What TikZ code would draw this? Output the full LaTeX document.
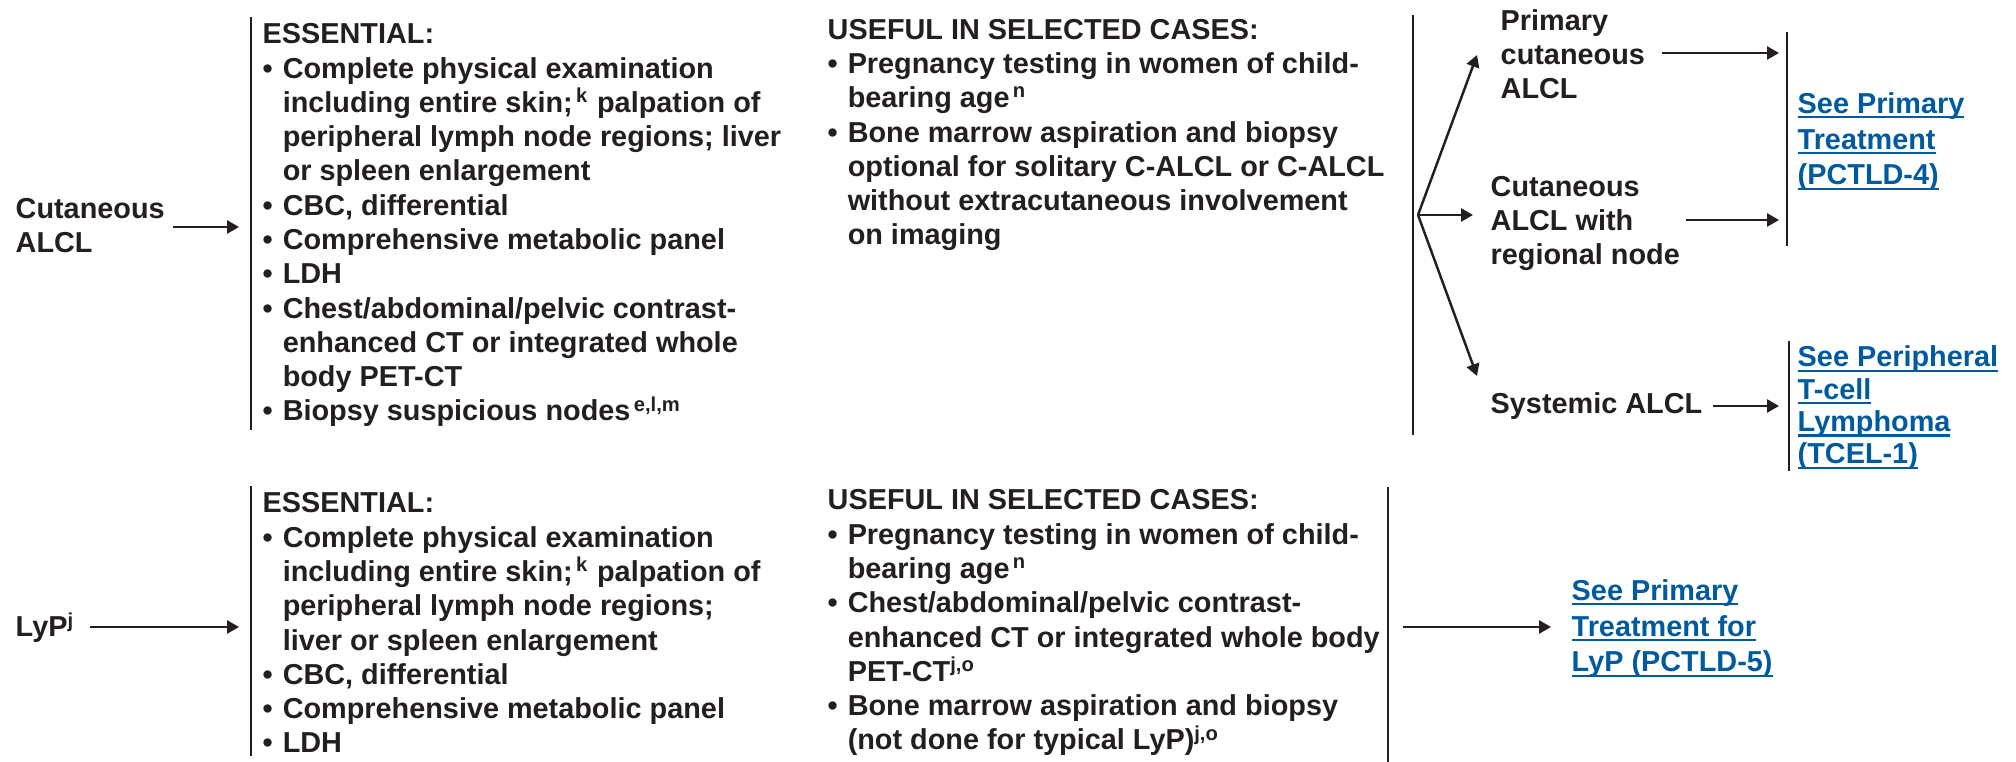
\documentclass[tikz,border=0pt]{standalone}
\usepackage{fontspec}
\setmainfont{Liberation Sans}
\usetikzlibrary{arrows.meta}
\definecolor{txtK}{RGB}{35,31,32}
\definecolor{linkB}{RGB}{0,90,158}
% bullet, hanging indent, superscript and link underline
\newcommand{\bul}{\makebox[5.7pt][l]{\textbullet}}
\newcommand{\ind}{\hspace*{5.7pt}}
\newcommand{\sups}[1]{\textsuperscript{#1}}
\newcommand{\ulnk}[1]{\sbox0{#1}\rlap{\rule[-1.4pt]{\wd0}{0.6pt}}\usebox0}
% nodes are placed at the baseline of their last line
\tikzset{
  txt/.style={anchor=base west, inner sep=0pt, align=left, text=txtK,
    font=\fontsize{8.2}{9.75}\selectfont\bfseries},
  lnk/.style={txt, text=linkB, font=\fontsize{8.2}{10.2}\selectfont\bfseries},
  arr/.style={draw=txtK, line width=0.7pt, -{Triangle[length=3.4pt,width=3.7pt]}},
  bar/.style={draw=txtK, line width=0.6pt}
}
\begin{document}
\begin{tikzpicture}[x=0.01cm, y=-0.01cm]
\useasboundingbox (0,0) rectangle (2016,762);
% top row: cutaneous ALCL
\node[txt] (cutalcl) at (15,253) {Cutaneous\\ALCL};
\coordinate (a1s) at (173,227);
\coordinate (a1e) at (239,227);
\draw[arr] (a1s) -- (a1e);
\coordinate (l1t) at (251,17);
\coordinate (l1b) at (251,430);
\draw[bar] (l1t) -- (l1b);
\node[txt] (essA) at (262,421) {ESSENTIAL:\\
  \bul Complete physical examination\\
  \ind including entire skin;\sups{\,k} palpation of\\
  \ind peripheral lymph node regions; liver\\
  \ind or spleen enlargement\\
  \bul CBC, differential\\
  \bul Comprehensive metabolic panel\\
  \bul LDH\\
  \bul Chest/abdominal/pelvic contrast-\\
  \ind enhanced CT or integrated whole\\
  \ind body PET-CT\\
  \bul Biopsy suspicious nodes\sups{\,e,l,m}};
\node[txt] (useA) at (827,245) {USEFUL IN SELECTED CASES:\\
  \bul Pregnancy testing in women of child-\\
  \ind bearing age\sups{\,n}\\
  \bul Bone marrow aspiration and biopsy\\
  \ind optional for solitary C-ALCL or C-ALCL\\
  \ind without extracutaneous involvement\\
  \ind on imaging};
\coordinate (l2t) at (1413,15);
\coordinate (l2b) at (1413,435);
\draw[bar] (l2t) -- (l2b);
% fan to the three subtypes
\coordinate (fan) at (1418,215);
\coordinate (tipP) at (1477,55);
\coordinate (tipC) at (1473,215);
\coordinate (tipS) at (1477,376);
\draw[arr] (fan) -- (tipP);
\draw[arr] (fan) -- (tipC);
\draw[arr] (fan) -- (tipS);
\node[txt] (prim) at (1500,99) {Primary\\cutaneous\\ALCL};
\node[txt] (cutreg) at (1490,265) {Cutaneous\\ALCL with\\regional node};
\node[txt] (sysalcl) at (1490,414) {Systemic ALCL};
\coordinate (a2s) at (1662,53);
\coordinate (a2e) at (1779,53);
\draw[arr] (a2s) -- (a2e);
\coordinate (a3s) at (1686,220);
\coordinate (a3e) at (1779,220);
\draw[arr] (a3s) -- (a3e);
\coordinate (a4s) at (1713,406);
\coordinate (a4e) at (1779,406);
\draw[arr] (a4s) -- (a4e);
\coordinate (l3t) at (1787,32);
\coordinate (l3b) at (1787,246);
\draw[bar] (l3t) -- (l3b);
\coordinate (l4t) at (1789,341);
\coordinate (l4b) at (1789,471);
\draw[bar] (l4t) -- (l4b);
\node[lnk] (seeprim) at (1797,185) {\ulnk{See Primary}\\\ulnk{Treatment}\\\ulnk{(PCTLD-4)}};
\node[lnk, font=\fontsize{8.2}{9.2}\selectfont\bfseries] (seeper) at (1797,464)
  {\ulnk{See Peripheral}\\\ulnk{T-cell}\\\ulnk{Lymphoma}\\\ulnk{(TCEL-1)}};
% bottom row: LyP
\node[txt] (lyp) at (15,637) {LyP\sups{j}};
\coordinate (b1s) at (90,627);
\coordinate (b1e) at (239,627);
\draw[arr] (b1s) -- (b1e);
\coordinate (m1t) at (251,486);
\coordinate (m1b) at (251,756);
\draw[bar] (m1t) -- (m1b);
\node[txt] (essB) at (262,753) {ESSENTIAL:\\
  \bul Complete physical examination\\
  \ind including entire skin;\sups{\,k} palpation of\\
  \ind peripheral lymph node regions;\\
  \ind liver or spleen enlargement\\
  \bul CBC, differential\\
  \bul Comprehensive metabolic panel\\
  \bul LDH};
\node[txt] (useB) at (827,750) {USEFUL IN SELECTED CASES:\\
  \bul Pregnancy testing in women of child-\\
  \ind bearing age\sups{\,n}\\
  \bul Chest/abdominal/pelvic contrast-\\
  \ind enhanced CT or integrated whole body\\
  \ind PET-CT\sups{j,o}\\
  \bul Bone marrow aspiration and biopsy\\
  \ind (not done for typical LyP)\sups{j,o}};
\coordinate (m2t) at (1388,487);
\coordinate (m2b) at (1388,762);
\draw[bar] (m2t) -- (m2b);
\coordinate (b2s) at (1403,627);
\coordinate (b2e) at (1551,627);
\draw[arr] (b2s) -- (b2e);
\node[lnk] (seelyp) at (1571,672) {\ulnk{See Primary}\\\ulnk{Treatment for}\\\ulnk{LyP (PCTLD-5)}};
\end{tikzpicture}
\end{document}
